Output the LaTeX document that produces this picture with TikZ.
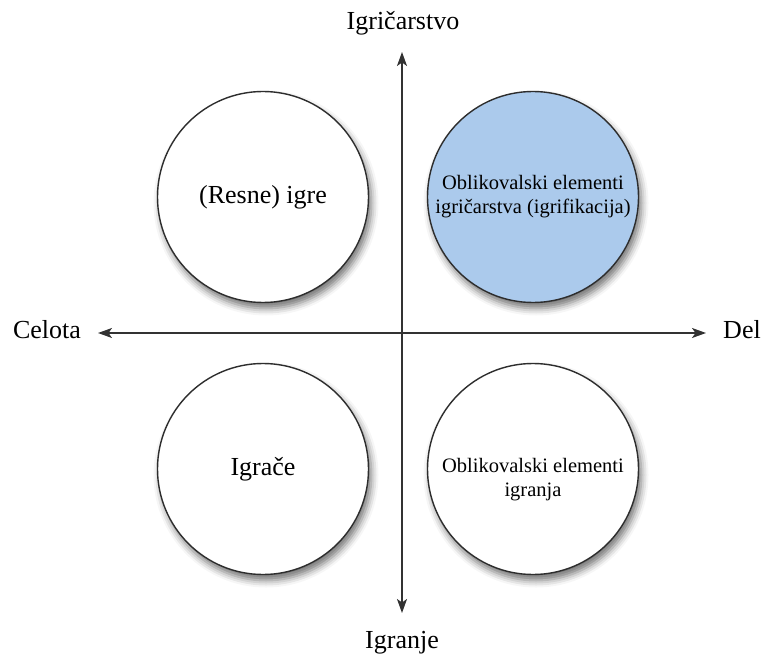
\documentclass[tikz,border=0pt]{standalone}
\usepackage{fontspec}
\setmainfont{Liberation Serif}
\usetikzlibrary{arrows.meta,shadows.blur}

\definecolor{axisgray}{RGB}{50,50,50}
\definecolor{ringgray}{RGB}{45,45,45}
\definecolor{softblue}{RGB}{171,202,236}

\tikzset{
  axisline/.style={draw=axisgray, line width=1.5pt,
    {Stealth[length=14pt,width=10pt,inset=3.5pt]}-{Stealth[length=14pt,width=10pt,inset=3.5pt]}},
  axislabel/.style={font=\fontsize{26}{30}\selectfont, text=black, inner sep=0pt, anchor=base},
  quad/.style={circle, minimum size=211pt, inner sep=0pt, draw=ringgray, line width=1.4pt,
    fill=white, align=center,
    blur shadow={shadow xshift=3pt, shadow yshift=-6pt, shadow blur radius=7pt, shadow opacity=55}},
  bigtext/.style={font=\fontsize{26}{30}\selectfont},
  smalltext/.style={font=\fontsize{20.5}{24}\selectfont},
}

\begin{document}
\begin{tikzpicture}[x=1pt,y=-1pt]
  \useasboundingbox (0,0) rectangle (763,655);

  % quadrant circles
  \node[quad, bigtext] (games) at (263,197) {(Resne) igre};
  \node[quad, fill=softblue, smalltext] (gamification) at (533,197)
    {Oblikovalski elementi\\igričarstva (igrifikacija)};
  \node[quad, bigtext] (toys) at (263,469) {Igrače};
  \node[quad, smalltext] (playdesign) at (533,469) {};
  \node[smalltext, align=center] (playtext) at (533,480) {Oblikovalski elementi\\igranja};

  % axis end labels
  \node[axislabel] (top) at (403,30) {Igričarstvo};
  \node[axislabel] (bottom) at (402,648) {Igranje};
  \node[axislabel] (left) at (47,338) {Celota};
  \node[axislabel] (right) at (742,338) {Del};

  % axis ends
  \coordinate (ytop) at (402,52);
  \coordinate (ybot) at (402,613);
  \coordinate (xleft) at (98,333);
  \coordinate (xright) at (706,333);

  \draw[axisline] (ybot) -- (ytop);
  \draw[axisline] (xleft) -- (xright);
\end{tikzpicture}
\end{document}
